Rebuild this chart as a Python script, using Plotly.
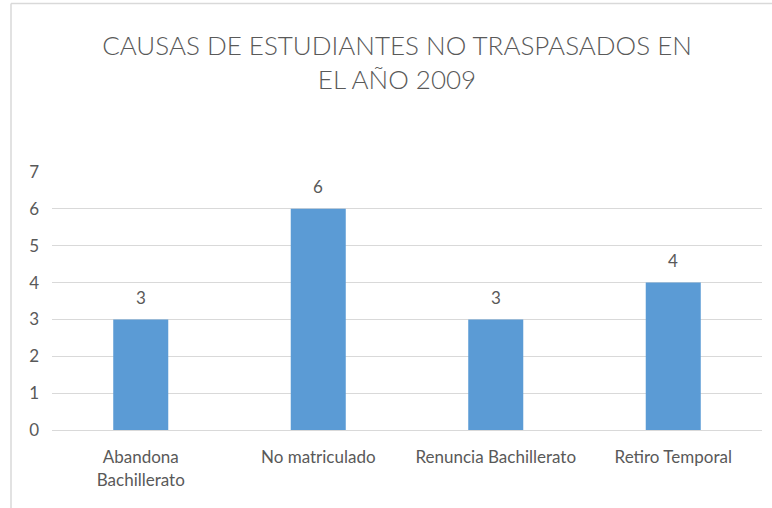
import plotly.graph_objects as go

categories = ["Abandona<br>Bachillerato", "No matriculado", "Renuncia Bachillerato", "Retiro Temporal"]
values = [3, 6, 3, 4]
title_text = "CAUSAS DE ESTUDIANTES NO TRASPASADOS EN<br>EL AÑO 2009"

font_family = "Lato, Roboto, sans-serif"
grey = "#595959"

fig = go.Figure(go.Bar(
    x=categories, y=values,
    marker=dict(color="#5B9BD5", line=dict(width=0)),
    hoverinfo="skip",
))

for c, v in zip(categories, values):
    fig.add_annotation(x=c, y=v, text=str(v), showarrow=False, yanchor="middle",
                       yshift=22, font=dict(size=17, color=grey, family=font_family))

border = dict(color="#D9D9D9", width=1.5)
fig.update_layout(
    width=772, height=508,
    margin=dict(l=52, r=10, t=172, b=78),
    paper_bgcolor="white", plot_bgcolor="white",
    bargap=0.69,
    showlegend=False,
    title=dict(text=title_text, x=397 / 772, xref="container", xanchor="center",
               y=1 - 55 / 508, yref="container", yanchor="top",
               font=dict(size=26, color=grey, family=font_family, weight=300)),
    xaxis=dict(showgrid=False, showline=True, linecolor="#D9D9D9", linewidth=1,
               ticks="", tickfont=dict(size=17, color=grey, family=font_family),
               ticklabelstandoff=12),
    yaxis=dict(range=[0, 7], dtick=1, showgrid=True, gridcolor="#D9D9D9", gridwidth=1,
               zeroline=False, showline=False, ticks="",
               tickfont=dict(size=17, color=grey, family=font_family),
               ticklabelstandoff=12),
    shapes=[
        dict(type="line", xref="paper", yref="paper",
             x0=(11 - 52) / 710, x1=(772 - 52) / 710,
             y0=(430 - 3.5) / 258, y1=(430 - 3.5) / 258, line=border),
        dict(type="line", xref="paper", yref="paper",
             x0=(11 - 52) / 710, x1=(11 - 52) / 710,
             y0=(430 - 3.5) / 258, y1=(430 - 508) / 258, line=border),
    ],
)

fig.write_html("out.html", post_script="document.body.style.margin='0';",
               config={"displayModeBar": False})
